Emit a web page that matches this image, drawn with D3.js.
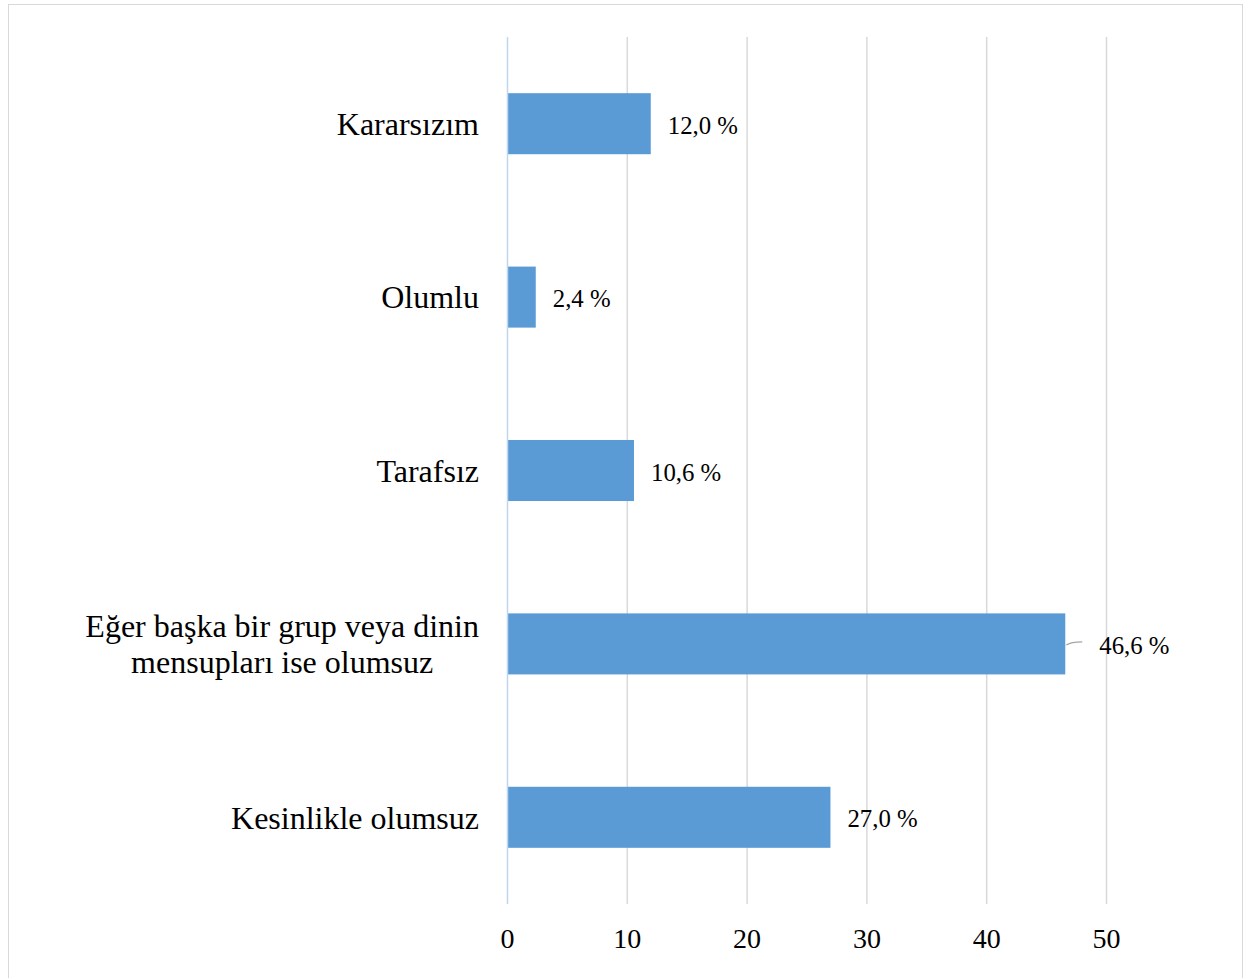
<!DOCTYPE html>
<html>
<head>
<meta charset="utf-8">
<script src="https://cdn.jsdelivr.net/npm/d3@7"></script>
<style>
  body { margin: 0; background: #fff; }
  text { font-family: "Liberation Serif", "Times New Roman", serif; fill: #000; }
</style>
</head>
<body>
<div id="chart"></div>
<script>
var categories = ["Kararsızım", "Olumlu", "Tarafsız", "Eğer başka bir grup veya dinin|mensupları ise olumsuz", "Kesinlikle olumsuz"];
var values = [12.0, 2.4, 10.6, 46.6, 27.0];
var tickValues = [0, 10, 20, 30, 40, 50];

var width = 1246, height = 978;
var plotLeft = 507, plotRight = 1106, plotTop = 37, plotBottom = 904;

var svg = d3.select("#chart").append("svg")
	.attr("width", width)
	.attr("height", height)

svg.append("rect")
	.attr("x", 8.5).attr("y", 4.5)
	.attr("width", 1234).attr("height", 990)
	.attr("fill", "#fff")
	.attr("stroke", "#d9d9d9")

var x = d3.scaleLinear().domain([0, 50]).range([plotLeft, plotRight]);
var y = d3.scaleBand().domain(categories).range([plotTop, plotBottom])
	.paddingInner(0.648).paddingOuter(0.324);

// gridlines
svg.append("g")
	.selectAll("line")
	.data(tickValues.slice(1))
	.enter().append("line")
	.attr("x1", function (d) { return x(d) + 0.5 })
	.attr("x2", function (d) { return x(d) + 0.5 })
	.attr("y1", plotTop).attr("y2", plotBottom)
	.attr("stroke", "#d9d9d9")
	.attr("stroke-width", 1.5)

// x axis labels
var xAxis = d3.axisBottom(x).tickValues(tickValues).tickSize(0).tickPadding(0);
var gx = svg.append("g").attr("transform", "translate(0," + (plotBottom + 24) + ")").call(xAxis);
gx.select(".domain").remove();
gx.selectAll("text")
	.attr("font-size", "28px")
	.attr("font-family", "Liberation Serif")
	.attr("fill", "#000")
	.attr("dy", "0.71em")

// bars
svg.append("g")
	.selectAll("rect")
	.data(values)
	.enter().append("rect")
	.attr("x", x(0))
	.attr("y", function (d, i) { return y(categories[i]) })
	.attr("width", function (d) { return x(d) - x(0) })
	.attr("height", y.bandwidth())
	.attr("fill", "#5b9bd5")

// zero line
svg.append("line")
	.attr("x1", x(0) + 0.5).attr("x2", x(0) + 0.5)
	.attr("y1", plotTop).attr("y2", plotBottom)
	.attr("stroke", "#bdd7ee")
	.attr("stroke-width", 1.5)

// category labels
var cat = svg.append("g")
	.selectAll("text")
	.data(categories)
	.enter().append("text")
	.attr("font-size", "32px")
	.attr("text-anchor", "middle")
	.each(function (d) {
		var lines = d.split("|");
		var t = d3.select(this);
		var cy = y(d) + y.bandwidth() / 2;
		lines.forEach(function (l, j) {
			t.append("tspan")
				.attr("x", 0)
				.attr("y", cy + (j - (lines.length - 1) / 2) * 36)
				.attr("dy", "0.35em")
				.text(l)
		})
	})
// right-align each block as a whole at x=479
cat.each(function () {
	var bb = this.getBBox();
	d3.select(this).selectAll("tspan").attr("x", 479 - bb.width / 2);
})

// value labels
svg.append("g")
	.selectAll("text")
	.data(values)
	.enter().append("text")
	.attr("font-size", "24.8px")
	.attr("x", function (d) { return x(d) + (d > 40 ? 34 : 17) })
	.attr("y", function (d, i) { return y(categories[i]) + y.bandwidth() / 2 + 1.5 })
	.attr("dy", "0.35em")
	.text(function (d) { return d.toFixed(1).replace(".", ",") + " %" })

// leader line for the long bar
svg.append("path")
	.datum(values[3])
	.attr("d", function (d) {
		var cy = y(categories[3]) + y.bandwidth() / 2;
		return "M" + (x(d) + 1) + "," + (cy + 1) + "Q" + (x(d) + 6) + "," + (cy - 2) + " " + (x(d) + 17) + "," + (cy - 2)
	})
	.attr("fill", "none")
	.attr("stroke", "#a6a6a6")
	.attr("stroke-width", 1.2)
</script>
</body>
</html>
